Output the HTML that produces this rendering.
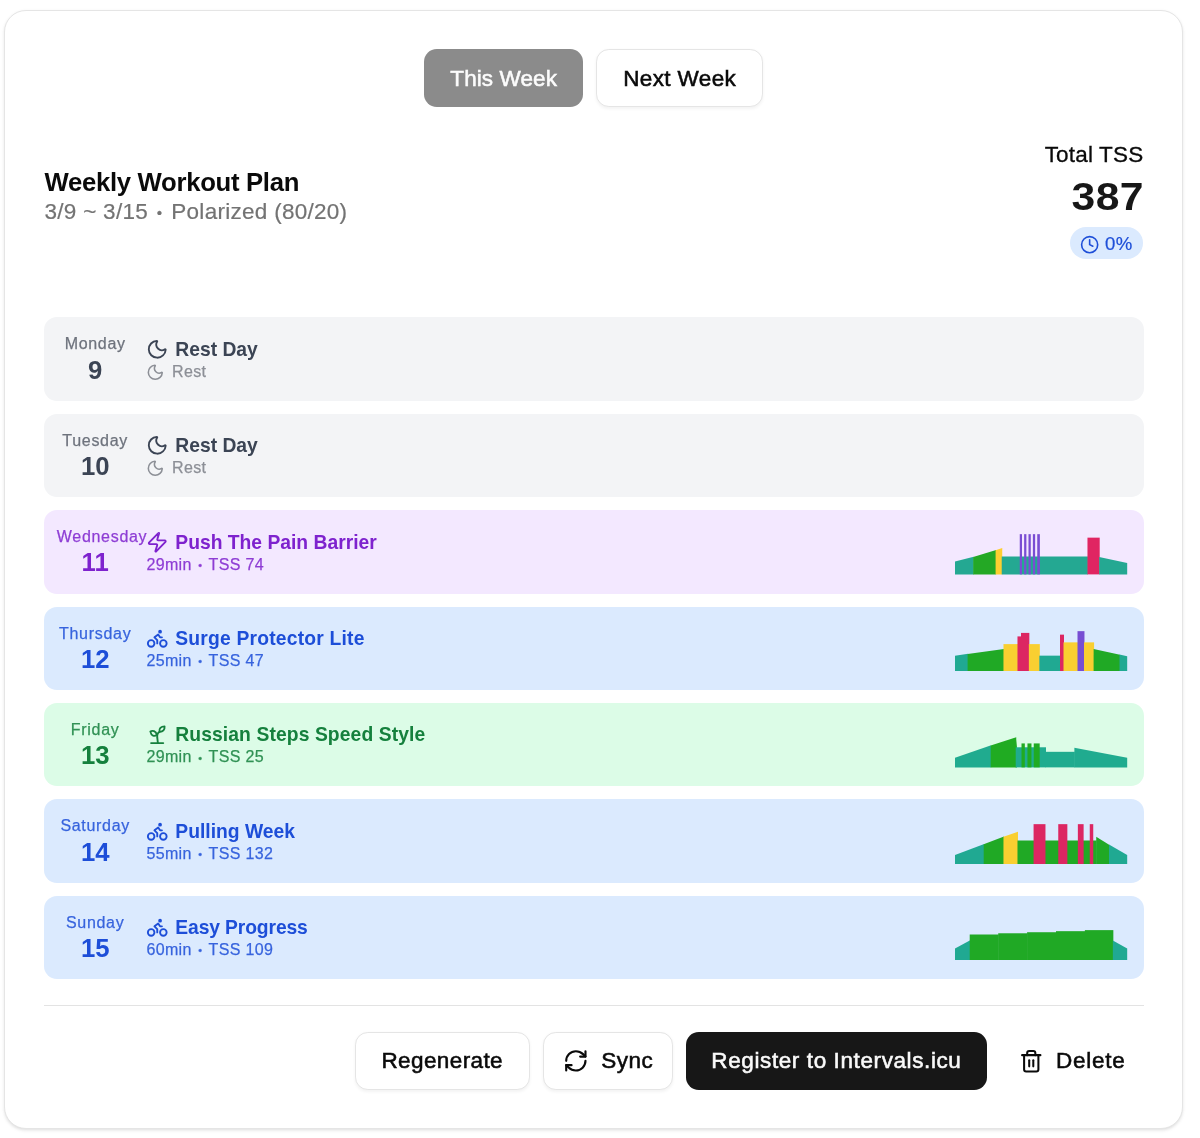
<!DOCTYPE html>
<html lang="en">
<head>
<meta charset="utf-8">
<title>Weekly Workout Plan</title>
<style>
*{box-sizing:border-box;margin:0;padding:0}
html,body{width:1200px;height:1138px;background:#fff;overflow:hidden}
body{font-family:"Liberation Sans",Arial,sans-serif;color:#0a0a0a;position:relative}
.card{position:absolute;left:3.6px;top:9.5px;width:1179.5px;height:1119px;background:#fff;border:1.6px solid #e5e5e5;border-radius:22px;box-shadow:0 1.6px 3.6px rgba(0,0,0,.07),0 1.6px 3.2px -1.6px rgba(0,0,0,.09)}
.inner{position:absolute;left:-4.6px;top:-10.5px;width:1200px;height:1138px}
.tabs{position:absolute;left:0;width:1187px;top:49.2px;height:57.8px;display:flex;justify-content:center;gap:13px}
.btn{height:57.8px;border-radius:12.8px;display:inline-flex;align-items:center;justify-content:center;font-size:22.5px;font-weight:normal;-webkit-text-stroke:.55px currentColor;letter-spacing:.75px;white-space:nowrap;border:1.6px solid transparent;font-family:inherit;color:#0a0a0a}
.tabs .btn{padding-top:1.2px}
.btn.outline{background:#fff;border-color:#e5e5e5;box-shadow:0 1.6px 3.2px rgba(0,0,0,.05)}
.btn.dark{background:#171717;color:#fafafa}
.btn.dis{background:#8b8b8b;color:#fcfcfc}
.btn svg{width:25.7px;height:25.7px;flex:none}
svg.ic{fill:none;stroke:currentColor;stroke-width:2;stroke-linecap:round;stroke-linejoin:round;flex:none;display:block}
h2{position:absolute;left:44.5px;top:166px;font-size:25.7px;line-height:32px;font-weight:bold;letter-spacing:-.3px;white-space:nowrap}
.sub{position:absolute;left:44.5px;top:197.8px;-webkit-text-stroke:.2px currentColor;font-size:22.5px;line-height:28px;color:#737373;letter-spacing:.28px;white-space:nowrap}
.tss{position:absolute;right:56.8px;top:140px;text-align:right}
.tss .l{font-size:22.5px;line-height:30px;white-space:nowrap;-webkit-text-stroke:.3px currentColor;letter-spacing:.17px;margin-right:-.17px}
.tss .n{font-size:38.8px;line-height:48px;font-weight:bold;color:#171717;margin-top:2.7px;transform:scaleX(1.1);transform-origin:100% 50%;letter-spacing:.3px;margin-right:-.3px}
.badge{position:absolute;left:1070px;top:227px;width:73.3px;height:32px;border-radius:16px;background:#dbeafe;color:#1d4ed8;display:flex;align-items:center;padding-left:9.6px;gap:6px;font-size:18.6px;padding-top:1.5px;-webkit-text-stroke:.2px currentColor}
.badge svg{width:19.3px;height:19.3px;position:relative;top:1.3px}
.badge span{letter-spacing:.6px}
.row{position:absolute;left:43.8px;width:1100px;height:83.6px;border-radius:13px}
.row .dn{position:absolute;left:13px;top:17px;width:76.8px;text-align:center;font-size:16px;line-height:20px;white-space:nowrap;letter-spacing:.7px;-webkit-text-stroke:.25px currentColor}
.row .dd{position:absolute;left:13px;top:37.3px;width:76.8px;text-align:center;font-size:25.7px;line-height:30px;font-weight:bold}
.row .t{position:absolute;left:102.6px;top:20.5px;display:flex;align-items:center;gap:6.4px;font-size:19.3px;line-height:24px;font-weight:bold;white-space:nowrap}
.row .t svg{width:22.5px;height:22.5px;position:relative;top:-.8px}
.row .s{position:absolute;left:102.6px;top:44.5px;display:flex;align-items:center;gap:6.4px;font-size:16px;line-height:20px;white-space:nowrap;letter-spacing:.36px;-webkit-text-stroke:.25px currentColor}
.row .s svg{width:18.6px;height:18.6px;margin-right:.7px}
.row svg.g{position:absolute;left:911.6px;top:22.3px;width:172.2px;height:42.4px;display:block}
.gray{background:#f3f4f6;color:#3b4454}
.gray .dn{color:#6e737d}
.gray .s{color:#8c8f96}
.purple{background:#f3e8ff;color:#7e22ce}
.blue{background:#dbeafe;color:#1d4ed8}
.green{background:#dcfce7;color:#15803d}
.purple .dn,.purple .s,.blue .dn,.blue .s,.green .dn,.green .s{opacity:.86}
.b{font-size:.68em;position:relative;top:-.07em;margin:0 .15em}
.hr{position:absolute;left:43.8px;width:1100px;top:1004.6px;height:1.3px;background:#e3e3e3}
.foot{position:absolute;left:0;top:1032.1px;height:57.8px;width:1143.3px;display:flex;justify-content:flex-end;gap:12.9px}
</style>
</head>
<body>
<main class="card"><div class="inner">

<div class="tabs">
  <button class="btn dis" style="width:159.4px;letter-spacing:.1px">This Week</button>
  <button class="btn outline" style="width:166.6px;letter-spacing:.38px">Next Week</button>
</div>

<h2>Weekly Workout Plan</h2>
<p class="sub">3/9 ~ 3/15 <span class="b">•</span> Polarized (80/20)</p>

<div class="tss">
  <div class="l">Total TSS</div>
  <div class="n">387</div>
</div>
<div class="badge"><svg class="ic" viewBox="0 0 24 24"><circle cx="12" cy="12" r="10"/><polyline points="12 6 12 12 16 14"/></svg><span>0%</span></div>

<div class="row gray" style="top:317.3px"><div class="dn">Monday</div><div class="dd">9</div><div class="t"><svg class="ic" viewBox="0 0 24 24"><path d="M20.985 12.486a9 9 0 1 1-9.473-9.472c.405-.022.617.46.402.803a6 6 0 0 0 8.268 8.268c.344-.215.825-.004.803.401"/></svg><span style="letter-spacing:0px">Rest Day</span></div><div class="s"><svg class="ic" viewBox="0 0 24 24"><path d="M20.985 12.486a9 9 0 1 1-9.473-9.472c.405-.022.617.46.402.803a6 6 0 0 0 8.268 8.268c.344-.215.825-.004.803.401"/></svg><span>Rest</span></div></div>
<div class="row gray" style="top:413.7px"><div class="dn">Tuesday</div><div class="dd">10</div><div class="t"><svg class="ic" viewBox="0 0 24 24"><path d="M20.985 12.486a9 9 0 1 1-9.473-9.472c.405-.022.617.46.402.803a6 6 0 0 0 8.268 8.268c.344-.215.825-.004.803.401"/></svg><span style="letter-spacing:0px">Rest Day</span></div><div class="s"><svg class="ic" viewBox="0 0 24 24"><path d="M20.985 12.486a9 9 0 1 1-9.473-9.472c.405-.022.617.46.402.803a6 6 0 0 0 8.268 8.268c.344-.215.825-.004.803.401"/></svg><span>Rest</span></div></div>
<div class="row purple" style="top:510.1px"><div class="dn">Wednesday</div><div class="dd">11</div><div class="t"><svg class="ic" viewBox="0 0 24 24"><path d="M4 14a1 1 0 0 1-.78-1.63l9.9-10.2a.5.5 0 0 1 .86.46l-1.92 6.02A1 1 0 0 0 13 10h7a1 1 0 0 1 .78 1.63l-9.9 10.2a.5.5 0 0 1-.86-.46l1.92-6.02A1 1 0 0 0 11 14z"/></svg><span style="letter-spacing:0px">Push The Pain Barrier</span></div><div class="s"><span>29min <span class="b">•</span> TSS 74</span></div><svg class="g" viewBox="0 0 172.2 42.4" preserveAspectRatio="none"><g opacity=".85"><polygon points="0.00,42.4 0.00,29.62 18.70,24.77 18.70,42.4" fill="#009E80"/><polygon points="18.20,42.4 18.20,24.90 41.10,18.10 41.10,42.4" fill="#009E00"/><polygon points="40.60,42.4 40.60,18.25 47.23,15.98 47.23,42.4" fill="#FFCB0E"/><polygon points="46.73,42.4 46.73,24.55 132.98,24.55 132.98,42.4" fill="#009E80"/><polygon points="132.48,42.4 132.48,5.65 144.71,5.65 144.71,42.4" fill="#DD0447"/><polygon points="144.21,42.4 144.21,24.90 172.21,31.02 172.21,42.4" fill="#009E80"/><polygon points="64.75,42.4 64.75,2.15 67.03,2.15 67.03,42.4" fill="#6633CC"/><polygon points="69.13,42.4 69.13,2.15 71.40,2.15 71.40,42.4" fill="#6633CC"/><polygon points="73.50,42.4 73.50,2.15 75.78,2.15 75.78,42.4" fill="#6633CC"/><polygon points="77.88,42.4 77.88,2.15 80.15,2.15 80.15,42.4" fill="#6633CC"/><polygon points="82.25,42.4 82.25,2.15 84.88,2.15 84.88,42.4" fill="#6633CC"/></g></svg></div>
<div class="row blue" style="top:606.5px"><div class="dn">Thursday</div><div class="dd">12</div><div class="t"><svg class="ic" viewBox="0 0 24 24"><circle cx="18.5" cy="17.5" r="3.5"/><circle cx="5.5" cy="17.5" r="3.5"/><circle cx="15" cy="5" r="1"/><path d="M12 17.5V14l-3-3 4-3 2 3h2"/></svg><span style="letter-spacing:0.2px">Surge Protector Lite</span></div><div class="s"><span>25min <span class="b">•</span> TSS 47</span></div><svg class="g" viewBox="0 0 172.2 42.4" preserveAspectRatio="none"><g opacity=".85"><polygon points="0.00,42.4 0.00,26.65 13.10,24.83 13.10,42.4" fill="#009E80"/><polygon points="12.60,42.4 12.60,24.90 48.98,19.93 48.98,42.4" fill="#009E00"/><polygon points="48.48,42.4 48.48,15.10 62.98,15.10 62.98,42.4" fill="#FFCB0E"/><polygon points="62.48,42.4 62.48,7.40 66.48,7.40 66.48,42.4" fill="#DD0447"/><polygon points="65.98,42.4 65.98,3.90 74.35,3.90 74.35,42.4" fill="#DD0447"/><polygon points="73.85,42.4 73.85,15.10 84.85,15.10 84.85,42.4" fill="#FFCB0E"/><polygon points="84.35,42.4 84.35,26.65 105.51,26.65 105.51,42.4" fill="#009E80"/><polygon points="105.01,42.4 105.01,5.65 109.01,5.65 109.01,42.4" fill="#DD0447"/><polygon points="108.51,42.4 108.51,13.35 123.01,13.35 123.01,42.4" fill="#FFCB0E"/><polygon points="122.51,42.4 122.51,2.15 129.48,2.15 129.48,42.4" fill="#6633CC"/><polygon points="128.98,42.4 128.98,13.35 139.11,13.35 139.11,42.4" fill="#FFCB0E"/><polygon points="138.61,42.4 138.61,20.00 165.01,25.71 165.01,42.4" fill="#009E00"/><polygon points="164.51,42.4 164.51,25.60 172.21,27.35 172.21,42.4" fill="#009E80"/></g></svg></div>
<div class="row green" style="top:702.9px"><div class="dn">Friday</div><div class="dd">13</div><div class="t"><svg class="ic" viewBox="0 0 24 24"><path d="M5.4 21.4H18.4"/><path d="M12.6 21.4C12.6 18 11.5 15 12.1 12.4C12.6 10.7 13.4 9.9 14.4 9.4"/><path d="M4.6 9C7 7.6 10.4 8.6 11.6 12.6C9 14.8 5.6 14 4.6 9Z"/><path d="M14.4 9.4C13.6 6.2 16 3.6 19.8 3.6C20.2 7.2 18 9.6 14.4 9.4Z"/></svg><span style="letter-spacing:0.1px">Russian Steps Speed Style</span></div><div class="s"><span>29min <span class="b">•</span> TSS 25</span></div><svg class="g" viewBox="0 0 172.2 42.4" preserveAspectRatio="none"><g opacity=".85"><polygon points="0.00,42.4 0.00,32.77 36.20,20.35 36.20,42.4" fill="#009E80"/><polygon points="35.70,42.4 35.70,20.52 61.23,12.13 61.23,42.4" fill="#009E00"/><polygon points="60.73,42.4 60.73,12.30 61.95,22.27 61.95,42.4" fill="#009E00"/><polygon points="60.73,42.4 60.73,22.27 90.98,22.27 90.98,42.4" fill="#009E80"/><polygon points="90.48,42.4 90.48,26.82 119.86,26.82 119.86,42.4" fill="#009E80"/><polygon points="119.36,42.4 119.36,22.80 172.21,32.77 172.21,42.4" fill="#009E80"/><polygon points="66.50,42.4 66.50,18.42 69.83,18.42 69.83,42.4" fill="#009E00"/><polygon points="72.45,42.4 72.45,18.42 76.48,18.42 76.48,42.4" fill="#009E00"/><polygon points="78.75,42.4 78.75,18.42 84.70,18.42 84.70,42.4" fill="#009E00"/></g></svg></div>
<div class="row blue" style="top:799.3px"><div class="dn">Saturday</div><div class="dd">14</div><div class="t"><svg class="ic" viewBox="0 0 24 24"><circle cx="18.5" cy="17.5" r="3.5"/><circle cx="5.5" cy="17.5" r="3.5"/><circle cx="15" cy="5" r="1"/><path d="M12 17.5V14l-3-3 4-3 2 3h2"/></svg><span style="letter-spacing:0px">Pulling Week</span></div><div class="s"><span>55min <span class="b">•</span> TSS 132</span></div><svg class="g" viewBox="0 0 172.2 42.4" preserveAspectRatio="none"><g opacity=".85"><polygon points="0.00,42.4 0.00,33.12 29.20,22.08 29.20,42.4" fill="#009E80"/><polygon points="28.70,42.4 28.70,22.27 48.98,14.56 48.98,42.4" fill="#009E00"/><polygon points="48.48,42.4 48.48,14.75 62.98,9.67 62.98,42.4" fill="#FFCB0E"/><polygon points="62.48,42.4 62.48,18.60 141.73,18.60 141.73,42.4" fill="#009E00"/><polygon points="141.23,42.4 141.23,14.75 154.51,22.93 154.51,42.4" fill="#009E00"/><polygon points="154.01,42.4 154.01,22.62 172.21,33.12 172.21,42.4" fill="#009E80"/><polygon points="78.58,42.4 78.58,2.15 90.48,2.15 90.48,42.4" fill="#DD0447"/><polygon points="103.26,42.4 103.26,2.15 112.36,2.15 112.36,42.4" fill="#DD0447"/><polygon points="122.86,42.4 122.86,2.15 128.63,2.15 128.63,42.4" fill="#DD0447"/><polygon points="134.76,42.4 134.76,2.15 138.26,2.15 138.26,42.4" fill="#DD0447"/></g></svg></div>
<div class="row blue" style="top:895.7px"><div class="dn">Sunday</div><div class="dd">15</div><div class="t"><svg class="ic" viewBox="0 0 24 24"><circle cx="18.5" cy="17.5" r="3.5"/><circle cx="5.5" cy="17.5" r="3.5"/><circle cx="15" cy="5" r="1"/><path d="M12 17.5V14l-3-3 4-3 2 3h2"/></svg><span style="letter-spacing:-0.12px">Easy Progress</span></div><div class="s"><span>60min <span class="b">•</span> TSS 109</span></div><svg class="g" viewBox="0 0 172.2 42.4" preserveAspectRatio="none"><g opacity=".85"><polygon points="0.00,42.4 0.00,30.50 15.20,22.36 15.20,42.4" fill="#009E80"/><polygon points="14.70,42.4 14.70,16.50 43.73,16.50 43.73,42.4" fill="#009E00"/><polygon points="43.23,42.4 43.23,15.27 72.60,15.27 72.60,42.4" fill="#009E00"/><polygon points="72.10,42.4 72.10,14.22 101.48,14.22 101.48,42.4" fill="#009E00"/><polygon points="100.98,42.4 100.98,13.17 130.36,13.17 130.36,42.4" fill="#009E00"/><polygon points="129.86,42.4 129.86,12.12 158.36,12.12 158.36,42.4" fill="#009E00"/><polygon points="157.86,42.4 157.86,22.62 172.21,30.50 172.21,42.4" fill="#009E80"/></g></svg></div>

<div class="hr"></div>
<div class="foot">
  <button class="btn outline" style="width:175px;letter-spacing:.4px">Regenerate</button>
  <button class="btn outline" style="width:130.5px;gap:12.9px;letter-spacing:.5px"><svg class="ic" viewBox="0 0 24 24"><path d="M3 12a9 9 0 0 1 9-9 9.750 9.750 0 0 1 6.740 2.740L21 8"/><path d="M21 3v5h-5"/><path d="M21 12a9 9 0 0 1-9 9 9.750 9.750 0 0 1-6.740-2.740L3 16"/><path d="M8 16H3v5"/></svg><span>Sync</span></button>
  <button class="btn dark" style="width:300.8px;letter-spacing:.6px">Register to Intervals.icu</button>
  <button class="btn" style="width:143.6px;gap:12.9px;background:none"><svg class="ic" viewBox="0 0 24 24" style="width:24.5px;height:24.5px;margin-left:1.2px"><path d="M3 6h18"/><path d="M19 6v14c0 1-1 2-2 2H7c-1 0-2-1-2-2V6"/><path d="M8 6V4c0-1 1-2 2-2h4c1 0 2 1 2 2v2"/><line x1="10" x2="10" y1="11" y2="17"/><line x1="14" x2="14" y1="11" y2="17"/></svg><span>Delete</span></button>
</div>
</div></main>
</body>
</html>
